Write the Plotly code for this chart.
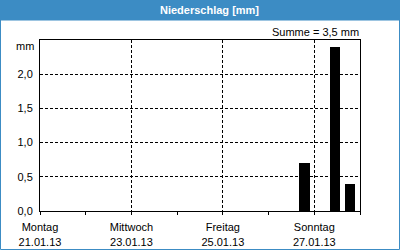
import plotly.graph_objects as go

# Data
bin_starts = ["2013-01-26 16:00", "2013-01-27 08:00", "2013-01-27 16:00"]
precip_mm = [0.7, 2.4, 0.4]
tick_dates = ["2013-01-21", "2013-01-23", "2013-01-25", "2013-01-27"]
tick_days = ["Montag", "Mittwoch", "Freitag", "Sonntag"]
tick_dates_text = ["21.01.13", "23.01.13", "25.01.13", "27.01.13"]
y_ticks = [0.0, 0.5, 1.0, 1.5, 2.0]
title_text = "Niederschlag [mm]"
sum_text = "Summe = 3,5 mm"
unit_text = "mm"

W, H = 400, 250
ML, MR, MT, MB = 40, 40, 40, 39
PW, PH = W - ML - MR, H - MT - MB

def px_x(px):
    return (px - ML) / PW

def px_y(py):
    return (H - MB - py) / PH

BLUE = "#3C8CC4"
FONT = "Liberation Sans"

fig = go.Figure()
fig.add_trace(go.Bar(
    x=bin_starts, y=precip_mm,
    width=[5.6 * 3600 * 1000] * len(precip_mm),
    offset=0,
    marker=dict(color="black", line=dict(width=0)),
))

fig.update_layout(
    width=W, height=H,
    margin=dict(l=ML, r=MR, t=MT, b=MB, autoexpand=False),
    paper_bgcolor="white", plot_bgcolor="white",
    separators=",.",
    showlegend=False,
    bargap=0,
    font=dict(family=FONT, size=11, color="black"),
    xaxis=dict(
        type="date",
        range=["2013-01-21", "2013-01-28"],
        tickvals=tick_dates,
        ticktext=[f"{d}<br>{t}" for d, t in zip(tick_days, tick_dates_text)],
        showline=True, linecolor="black", linewidth=1, mirror=True,
        ticks="outside", ticklen=3, tickcolor="black",
        ticklabelstandoff=3,
        automargin=False,
        showgrid=True, gridcolor="black", gridwidth=1, griddash="3px,2px",
        minor=dict(dtick=86400000, tick0="2013-01-21", ticks="outside",
                   ticklen=3, tickcolor="black", showgrid=False),
        zeroline=False,
        fixedrange=True,
    ),
    yaxis=dict(
        range=[0, 2.5],
        tickvals=y_ticks,
        tickformat=".1f",
        showline=True, linecolor="black", linewidth=1, mirror=True,
        ticks="", ticklabelstandoff=4,
        automargin=False,
        showgrid=True, gridcolor="black", gridwidth=1, griddash="3px,2px",
        zeroline=False,
        fixedrange=True,
    ),
    shapes=[
        dict(type="rect", xref="paper", yref="paper",
             x0=px_x(0), x1=px_x(W), y0=px_y(20.5), y1=px_y(0),
             fillcolor=BLUE, line=dict(width=0), layer="below"),
        dict(type="rect", xref="paper", yref="paper",
             x0=px_x(0.5), x1=px_x(W - 0.5), y0=px_y(H - 0.5), y1=px_y(0.5),
             fillcolor="rgba(0,0,0,0)", line=dict(color=BLUE, width=1)),
    ],
    annotations=[
        dict(text=f"<b>{title_text}</b>", xref="paper", yref="paper",
             x=px_x(209.5), y=px_y(10.5), xanchor="center", yanchor="middle",
             showarrow=False, font=dict(family=FONT, size=11, color="white")),
        dict(text=sum_text, xref="paper", yref="paper",
             x=px_x(361), y=px_y(32), xanchor="right", yanchor="middle",
             showarrow=False, font=dict(family=FONT, size=11, color="black")),
        dict(text=unit_text, xref="paper", yref="paper",
             x=px_x(36), y=px_y(46), xanchor="right", yanchor="middle",
             showarrow=False, font=dict(family=FONT, size=11, color="black")),
    ],
)

fig.write_html("out.html", config=dict(displayModeBar=False))
